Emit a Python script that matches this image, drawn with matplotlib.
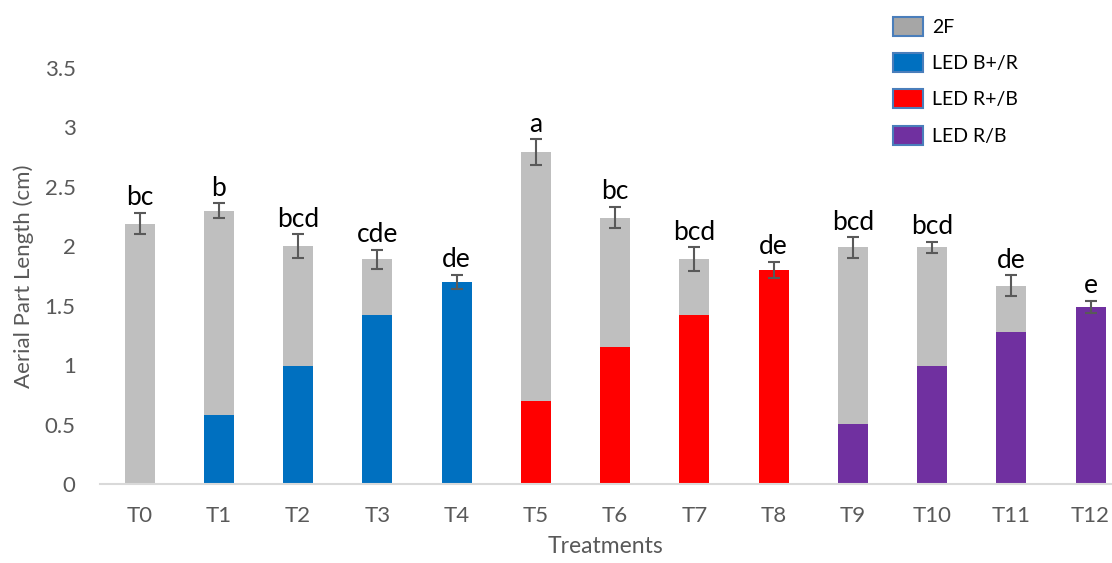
import matplotlib
matplotlib.use("Agg")
import matplotlib.pyplot as plt
from matplotlib.patches import Patch
import numpy as np

# Figure size in pixels (dpi 100)
FIG_W = 11.12
FIG_H = 5.63

plt.rcParams['font.family'] = ['Lato', 'DejaVu Sans']

# Data
treatments = ['T0', 'T1', 'T2', 'T3', 'T4', 'T5', 'T6', 'T7', 'T8', 'T9', 'T10', 'T11', 'T12']
total_len = [2.19, 2.30, 2.00, 1.89, 1.70, 2.79, 2.24, 1.89, 1.80, 1.99, 1.99, 1.67, 1.49]
led_len = [0.0, 0.58, 0.99, 1.42, 1.70, 0.70, 1.15, 1.42, 1.80, 0.505, 0.99, 1.28, 1.49]
err = [0.09, 0.06, 0.10, 0.08, 0.06, 0.11, 0.09, 0.10, 0.07, 0.085, 0.045, 0.085, 0.05]
letters = ['bc', 'b', 'bcd', 'cde', 'de', 'a', 'bc', 'bcd', 'de', 'bcd', 'bcd', 'de', 'e']
led_type = ['2F', 'LED B+/R', 'LED B+/R', 'LED B+/R', 'LED B+/R',
            'LED R+/B', 'LED R+/B', 'LED R+/B', 'LED R+/B',
            'LED R/B', 'LED R/B', 'LED R/B', 'LED R/B']

legend_labels = ['2F', 'LED B+/R', 'LED R+/B', 'LED R/B']
colors = {'2F': '#BFBFBF', 'LED B+/R': '#0070C0', 'LED R+/B': '#FF0000', 'LED R/B': '#7030A0'}

GREY_TEXT = '#595959'
BAR_W = 0.38

fig = plt.figure(figsize=(FIG_W, FIG_H), dpi=100)
ax = fig.add_axes([100 / 1112, 79 / 563, 1012 / 1112, 416 / 563])

x = np.arange(len(treatments))
tot = np.array(total_len)
led = np.array(led_len)

# Coloured LED portion at the bottom
bar_cols = [colors[t] for t in led_type]
ax.bar(x, led, width=BAR_W, color=bar_cols, zorder=2)
# Grey 2F portion on top
ax.bar(x, tot - led, bottom=led, width=BAR_W, color=colors['2F'], zorder=2)

ax.errorbar(x, tot, yerr=err, fmt='none', ecolor=GREY_TEXT, elinewidth=1.5,
            capsize=4.5, capthick=1.5, zorder=3)

for xi, top, e, lab in zip(x, tot, err, letters):
    ax.annotate(lab, (xi, top + e), xytext=(0, 2), textcoords='offset points',
                ha='center', va='bottom', fontsize=19, color='black')

ax.set_xlim(-0.5, 12.27)
ax.set_ylim(0, 3.5)
ax.set_yticks(np.arange(0, 3.51, 0.5))
ax.set_yticklabels(['0', '0.5', '1', '1.5', '2', '2.5', '3', '3.5'])
ax.set_xticks(x)
ax.set_xticklabels(treatments)

for side in ['left', 'right', 'top']:
    ax.spines[side].set_visible(False)
ax.spines['bottom'].set_color('#D9D9D9')
ax.spines['bottom'].set_linewidth(1.5)

ax.tick_params(axis='both', length=0, colors=GREY_TEXT, labelsize=16)
ax.tick_params(axis='y', pad=17.5)
ax.tick_params(axis='x', pad=16)

ax.set_xlabel('Treatments', fontsize=16.5, color=GREY_TEXT, labelpad=7)
ax.set_ylabel('Aerial Part Length (cm)', fontsize=16, color=GREY_TEXT, labelpad=8)

handles = [Patch(facecolor=colors[k] if k != '2F' else '#A6A6A6',
                 edgecolor='#4A7EBB', linewidth=1.5, label=k) for k in legend_labels]
fig.legend(handles=handles, loc='upper left', bbox_to_anchor=(889 / 1112, 1 - 13 / 563),
           frameon=False, fontsize=14, handlelength=1.55, handleheight=1.13,
           labelspacing=0.88, handletextpad=0.46, borderaxespad=0, borderpad=0.2)

plt.savefig('out.png', dpi=100)
